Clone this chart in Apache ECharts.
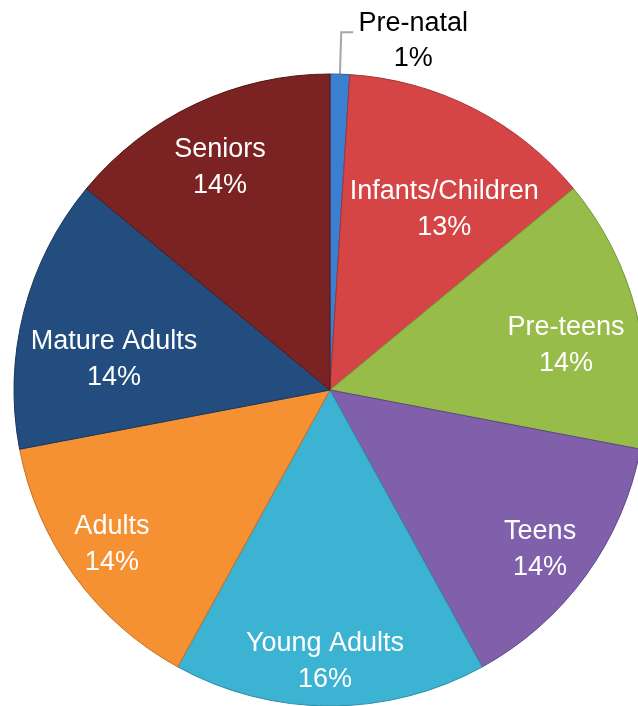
<!DOCTYPE html>
<html>
<head>
<meta charset="utf-8">
<script src="https://cdn.jsdelivr.net/npm/echarts@6/dist/echarts.min.js"></script>
<style>html,body{margin:0;padding:0;background:#fff}#c{width:638px;height:706px}</style>
</head>
<body>
<div id="c"></div>
<script>
const categories = ['Pre-natal','Infants/Children','Pre-teens','Teens','Young Adults','Adults','Mature Adults','Seniors'];
const values = [1, 13, 14, 14, 16, 14, 14, 14];
const colors = ['#3a7fd0','#d64545','#97bc4a','#8160ab','#3db3d4','#f59132','#224d7e','#7b2222'];
const borders = ['#2a5f9e','#a83232','#769639','#5f4684','#2c8aa6','#c46f22','#17375d','#561616'];
const labelNudge = [[0,0],[-2,48],[-12,19],[3,9],[-5,16],[-11,4],[32,33],[-1,9]];

const chart = echarts.init(document.getElementById('c'));
const baseData = categories.map((n,i)=>({
  name:n, value:values[i],
  itemStyle:{color:colors[i], borderColor:borders[i], borderWidth:1},
  label: i===0 ? {show:true} : {show:false},
  labelLine: i===0 ? {show:true} : {show:false}
}));
const overlayData = categories.map((n,i)=>({
  name:n, value:values[i],
  label:{show:i!==0}
}));
chart.setOption({
  animation:false,
  series:[
    {
      type:'pie', center:[330,390], radius:[0,316], startAngle:90, clockwise:true,
      data:baseData,
      label:{position:'outside', color:'#000', fontFamily:'Liberation Sans, Arial', fontSize:27,
        padding:[18,0,0,0],
        formatter: p => '{a|'+p.name+'}\n{a|'+p.value+'%}',
        rich:{a:{fontFamily:'Liberation Sans, Arial', fontSize:27, lineHeight:35, width:110, align:'center', color:'#000'}}
      },
      labelLine:{length:42, length2:12, smooth:false, lineStyle:{color:'#a6a6a6', width:2}},
      emphasis:{disabled:true}
    },
    {
      type:'pie', center:[330,390], radius:[190,316], startAngle:90, clockwise:true, silent:true,
      data:overlayData,
      itemStyle:{color:'transparent', borderWidth:0},
      label:{position:'inside', color:'#fff', fontFamily:'Liberation Sans, Arial', fontSize:27, lineHeight:36,
        formatter: p => p.name+'\n'+p.value+'%'},
      labelLine:{show:false},
      labelLayout: p => ({dx:labelNudge[p.dataIndex][0], dy:labelNudge[p.dataIndex][1]}),
      emphasis:{disabled:true}
    }
  ]
});
</script>
</body>
</html>
